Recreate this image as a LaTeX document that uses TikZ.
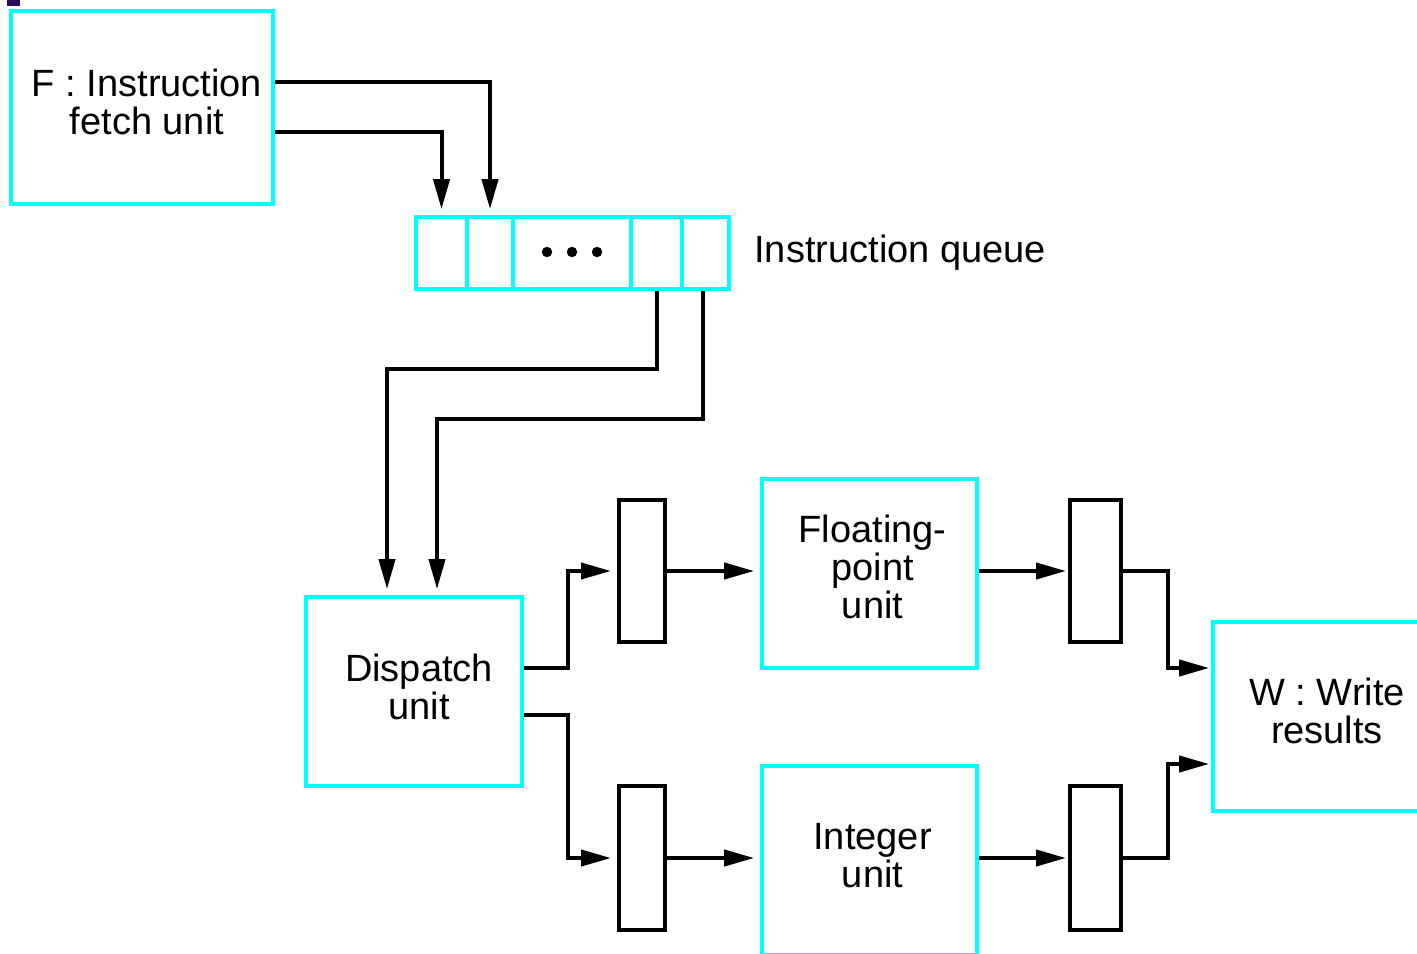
\documentclass[tikz,border=0pt]{standalone}
\usepackage{fontspec}
\setmainfont{Liberation Sans}
\usetikzlibrary{arrows.meta}
\definecolor{boxcyan}{RGB}{0,255,255}
\definecolor{markpurple}{RGB}{45,10,100}
\begin{document}
\begin{tikzpicture}[x=0.5pt,y=-0.5pt,
  box/.style={draw=boxcyan, line width=1.8pt, inner sep=0pt},
  boxtext/.style={inner sep=0pt, align=center, font=\fontsize{19}{19}\selectfont},
  cell/.style={draw=boxcyan, line width=1.8pt, inner sep=0pt, minimum height=36pt},
  latch/.style={draw=black, line width=2pt, inner sep=0pt, minimum height=71pt},
  arr/.style={line width=2pt, -{Triangle[length=15pt,width=8pt]}, shorten >=3pt},
  arrs/.style={arr, shorten >=1pt},
  lbl/.style={inner sep=0pt, font=\fontsize{19}{19}\selectfont}]
\useasboundingbox (0,0) rectangle (1417,953);
\fill[markpurple] (7,0) rectangle (20,6);

% boxes
\node[box, minimum width=131pt, minimum height=96.5pt] (F) at (142,107.5) {};
\node[box, minimum width=108pt, minimum height=94.5pt] (disp) at (414,691.5) {};
\node[box, minimum width=107.5pt, minimum height=94.5pt] (FP) at (869.5,573.5) {};
\node[box, minimum width=107.5pt, minimum height=94.5pt] (Int) at (869.5,860.5) {};
\node[box, minimum width=108pt, minimum height=94.5pt] (W) at (1321,716.5) {};

\node[boxtext] (Ft) at ([shift={(2.5pt,3pt)}]F.center) {F : Instruction\\fetch unit};
\node[boxtext] (dispt) at ([shift={(2.5pt,2.5pt)}]disp.center) {Dispatch\\unit};
\node[boxtext] (FPt) at ([shift={(1.5pt,3.5pt)}]FP.center) {Floating-\\point\\unit};
\node[boxtext] (Intt) at ([shift={(1.5pt,2.5pt)}]Int.center) {Integer\\unit};
\node[boxtext] (Wt) at ([shift={(3pt,3pt)}]W.center) {W : Write\\results};

% instruction queue
\node[cell, minimum width=25.5pt] (c1) at (441.5,253) {};
\node[cell, minimum width=23pt] (c2) at (490,253) {};
\node[cell, minimum width=59pt] (c3) at (572,253) {};
\node[cell, minimum width=25.5pt] (c4) at (656.5,253) {};
\node[cell, minimum width=23.5pt] (c5) at (705.5,253) {};
\fill ([xshift=-12.5pt,yshift=0.5pt]c3.center) circle (2.6pt);
\fill ([yshift=0.5pt]c3.center) circle (2.6pt);
\fill ([xshift=12.5pt,yshift=0.5pt]c3.center) circle (2.6pt);
\node[lbl, anchor=west] (ql) at (754,253) {Instruction queue};

% latches
\node[latch, minimum width=23pt] (L1) at (642,571) {};
\node[latch, minimum width=23pt, minimum height=72pt] (L2) at (642,858) {};
\node[latch, minimum width=25.5pt] (L3) at (1095.5,571) {};
\node[latch, minimum width=25.5pt, minimum height=72pt] (L4) at (1095.5,858) {};

% connectors
\draw[arr] (F.east |- 0,82) -| (c2.north);
\draw[arr] (F.east |- 0,132) -| (c1.north);

\coordinate (d1) at ([xshift=-13.5pt]disp.north);
\coordinate (d2) at ([xshift=11.5pt]disp.north);
\draw[arr] (c4.south) -- ++(0,78.5) -| (d1);
\draw[arr] ([xshift=-1.25pt]c5.south) -- ++(0,128.5) -| (d2);

\draw[arr] (disp.east |- 0,668) -- ++(44.5,0) |- (L1.west);
\draw[arr] (disp.east |- 0,715) -- ++(44.5,0) |- (L2.west);
\draw[arr] (L1.east) -- (FP.west |- L1.east);
\draw[arr] (L2.east) -- (Int.west |- L2.east);
\draw[arrs] (FP.east |- L1.east) -- (L3.west);
\draw[arrs] (Int.east |- L2.east) -- (L4.west);
\draw[arrs] (L3.east) -- ++(44.5,0) |- (W.west |- 0,668);
\draw[arrs] (L4.east) -- ++(44.5,0) |- (W.west |- 0,764);
\end{tikzpicture}
\end{document}
